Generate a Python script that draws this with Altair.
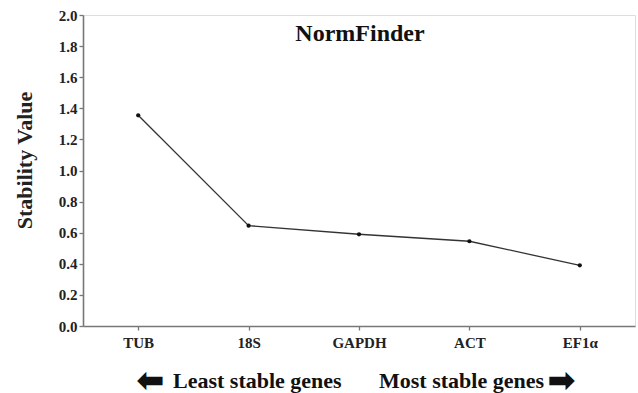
import altair as alt
import pandas as pd

genes = ["TUB", "18S", "GAPDH", "ACT", "EF1α"]
stability = [1.355, 0.645, 0.59, 0.545, 0.39]
y_ticks = [0.0, 0.2, 0.4, 0.6, 0.8, 1.0, 1.2, 1.4, 1.6, 1.8, 2.0]

title_text = "NormFinder"
left_note = "Least stable genes"
right_note = "Most stable genes"
left_arrow = "⬅"
right_arrow = "➡"

df = pd.DataFrame({"gene": genes, "value": stability})

FONT = "Liberation Serif"
W, H = 552, 311

x_enc = alt.X(
    "gene:N",
    sort=genes,
    scale=alt.Scale(type="point", padding=0.5),
    axis=alt.Axis(
        title=None,
        labelFont=FONT, labelFontWeight="bold", labelFontSize=15, labelColor="#222",
        labelPadding=5, labelAngle=0,
        tickSize=4, tickColor="#777", tickWidth=1.3,
        domainColor="#777", domainWidth=1.6, grid=False,
    ),
)
y_enc = alt.Y(
    "value:Q",
    scale=alt.Scale(domain=[0, 2], nice=False),
    axis=alt.Axis(
        values=y_ticks, format=".1f",
        title="Stability Value", titleFont=FONT, titleFontWeight="bold", titleFontSize=22,
        titleColor="#222", titleAngle=270, titleX=-52, titleY=145,
        titleAlign="center", titleBaseline="alphabetic",
        labelFont=FONT, labelFontWeight="bold", labelFontSize=15, labelColor="#222",
        labelPadding=2,
        tickSize=4, tickColor="#777", tickWidth=1.3,
        domainColor="#777", domainWidth=1.6, grid=False,
    ),
)

base = alt.Chart(df)
line = base.mark_line(color="#333", strokeWidth=1.3).encode(x=x_enc, y=y_enc)
pts = base.mark_point(filled=True, color="#111", size=18, opacity=1).encode(x=x_enc, y=y_enc)


def txt(label, x, y, size, align="left", baseline="alphabetic"):
    return alt.Chart(pd.DataFrame({"label": [label]})).mark_text(
        font=FONT, fontWeight="bold", fontSize=size, color="#111",
        align=align, baseline=baseline,
    ).encode(text="label:N", x=alt.value(x), y=alt.value(y))


t_title = txt(title_text, 277, 26, 24, align="center")
t_left = txt(left_note, 90, 373, 22)
t_right = txt(right_note, 296, 373, 22)
a_left = txt(left_arrow, 54, 366, 32, baseline="middle")
a_right = txt(right_arrow, 465, 366, 32, baseline="middle")

chart = alt.layer(line, pts, t_title, t_left, t_right, a_left, a_right).properties(
    width=W, height=H,
    autosize=alt.AutoSizeParams(type="none"),
    padding={"left": 83, "top": 15, "right": 3, "bottom": 67},
).configure_view(stroke=None).configure(background="white")

chart.save("out.html", embed_options={"renderer": "svg", "actions": False})
